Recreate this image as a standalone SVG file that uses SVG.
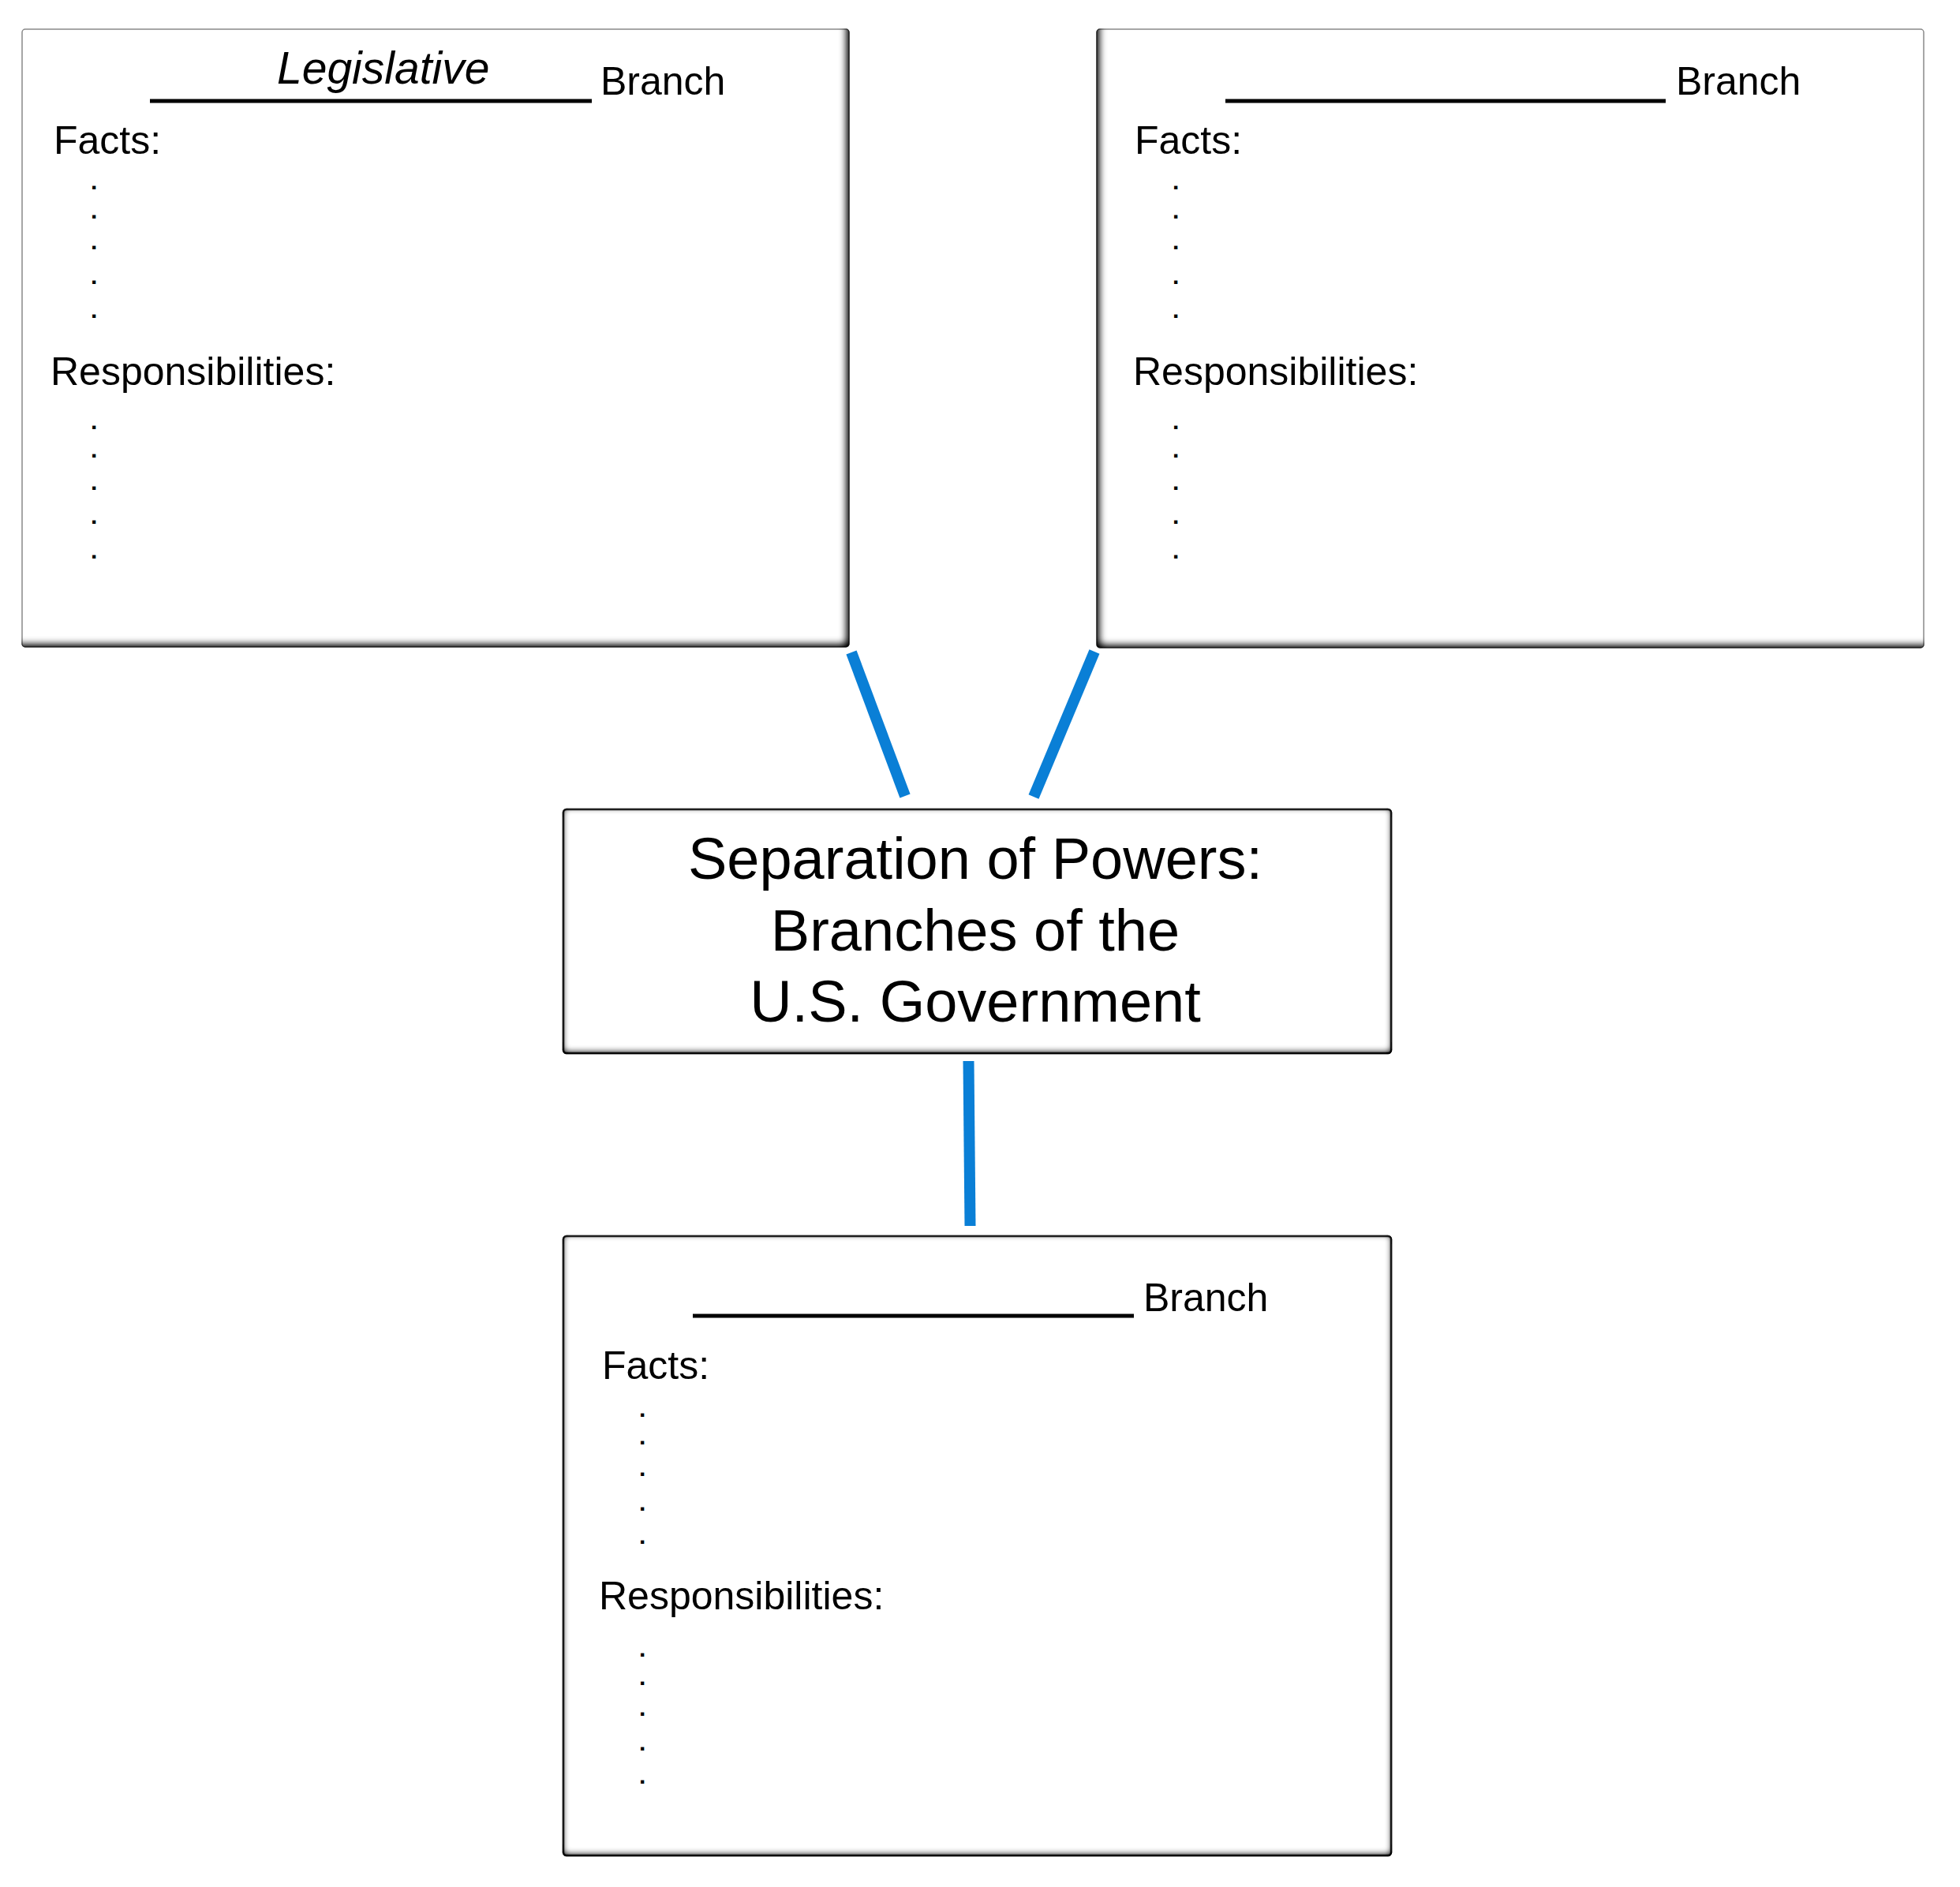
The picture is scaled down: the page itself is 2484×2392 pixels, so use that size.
<svg xmlns="http://www.w3.org/2000/svg" width="2484" height="2392" viewBox="0 0 2484 2392">
<style>
  .box { fill: #ffffff; stroke: #8a8a8a; stroke-width: 1.5; }
  .boxd { fill: #ffffff; stroke: #333333; stroke-width: 2.5; }
  .t { font-family: "Liberation Sans", Arial, sans-serif; font-size: 50px; fill: #000; }
  .d { font-family: "Liberation Sans", Arial, sans-serif; font-size: 30px; font-weight: bold; fill: #000; }
  .it { font-family: "Liberation Sans", Arial, sans-serif; font-size: 57px; font-style: italic; fill: #000; }
  .title { font-family: "Liberation Sans", Arial, sans-serif; font-size: 74px; fill: #000; text-anchor: middle; }
  .ul { stroke: #000; stroke-width: 5; }
  .conn { stroke: #0a7fd6; stroke-width: 14; stroke-linecap: butt; fill: none; }
</style>
<defs>
  <filter id="inBR" x="-3%" y="-3%" width="106%" height="106%">
    <feFlood flood-color="#000" flood-opacity="1" result="f"/>
    <feComposite in="f" in2="SourceAlpha" operator="out" result="outside"/>
    <feOffset in="outside" dx="-7" dy="-7" result="off"/>
    <feGaussianBlur in="off" stdDeviation="3.5" result="blur"/>
    <feComposite in="blur" in2="SourceAlpha" operator="in" result="inner"/>
    <feMerge><feMergeNode in="SourceGraphic"/><feMergeNode in="inner"/></feMerge>
  </filter>
  <filter id="inBL" x="-3%" y="-3%" width="106%" height="106%">
    <feFlood flood-color="#000" flood-opacity="1" result="f"/>
    <feComposite in="f" in2="SourceAlpha" operator="out" result="outside"/>
    <feOffset in="outside" dx="7" dy="-7" result="off"/>
    <feGaussianBlur in="off" stdDeviation="3.5" result="blur"/>
    <feComposite in="blur" in2="SourceAlpha" operator="in" result="inner"/>
    <feMerge><feMergeNode in="SourceGraphic"/><feMergeNode in="inner"/></feMerge>
  </filter>
  <filter id="inAll" x="-3%" y="-5%" width="106%" height="110%">
    <feFlood flood-color="#000" flood-opacity="1" result="f"/>
    <feComposite in="f" in2="SourceAlpha" operator="out" result="outside"/>
    <feMorphology in="outside" operator="dilate" radius="3" result="grow"/>
    <feOffset in="grow" dx="0" dy="-2" result="off"/>
    <feGaussianBlur in="off" stdDeviation="3" result="blur"/>
    <feComposite in="blur" in2="SourceAlpha" operator="in" result="inner"/>
    <feMerge><feMergeNode in="SourceGraphic"/><feMergeNode in="inner"/></feMerge>
  </filter>
</defs>
<rect width="2484" height="2392" fill="#ffffff"/>

<g id="connectors">
  <line class="conn" x1="1079" y1="827" x2="1147" y2="1009"/>
  <line class="conn" x1="1387" y1="826" x2="1310" y2="1010"/>
  <line class="conn" x1="1227.5" y1="1345" x2="1229.5" y2="1554"/>
</g>

<g id="legislative-branch">
  <rect class="box" x="28" y="37" width="1048" height="783" rx="4" filter="url(#inBR)"/>
  <text class="it" x="351" y="106">Legislative</text>
  <line class="ul" x1="190" y1="128" x2="750" y2="128"/>
  <text class="t" x="761" y="120">Branch</text>
  <text class="t" x="68" y="195">Facts:</text>
  <text class="d" x="115" y="240">.</text>
  <text class="d" x="115" y="277">.</text>
  <text class="d" x="115" y="316">.</text>
  <text class="d" x="115" y="360">.</text>
  <text class="d" x="115" y="403">.</text>
  <text class="t" x="64" y="488">Responsibilities:</text>
  <text class="d" x="115" y="544">.</text>
  <text class="d" x="115" y="580">.</text>
  <text class="d" x="115" y="621">.</text>
  <text class="d" x="115" y="664">.</text>
  <text class="d" x="115" y="708">.</text>
</g>

<g id="right-branch">
  <rect class="box" x="1390" y="37" width="1048" height="784" rx="4" filter="url(#inBL)"/>
  <line class="ul" x1="1553" y1="128" x2="2111" y2="128"/>
  <text class="t" x="2124" y="120">Branch</text>
  <text class="t" x="1438" y="195">Facts:</text>
  <text class="d" x="1486" y="240">.</text>
  <text class="d" x="1486" y="277">.</text>
  <text class="d" x="1486" y="316">.</text>
  <text class="d" x="1486" y="360">.</text>
  <text class="d" x="1486" y="403">.</text>
  <text class="t" x="1436" y="488">Responsibilities:</text>
  <text class="d" x="1486" y="544">.</text>
  <text class="d" x="1486" y="580">.</text>
  <text class="d" x="1486" y="621">.</text>
  <text class="d" x="1486" y="664">.</text>
  <text class="d" x="1486" y="708">.</text>
</g>

<g id="center-title">
  <rect class="boxd" x="714" y="1026" width="1049" height="309" rx="4" filter="url(#inAll)"/>
  <text class="title" x="1236" y="1114">Separation of Powers:</text>
  <text class="title" x="1236" y="1205">Branches of the</text>
  <text class="title" x="1236" y="1295">U.S. Government</text>
</g>

<g id="bottom-branch">
  <rect class="boxd" x="714" y="1567" width="1049" height="785" rx="4" filter="url(#inAll)"/>
  <line class="ul" x1="878" y1="1668" x2="1437" y2="1668"/>
  <text class="t" x="1449" y="1662">Branch</text>
  <text class="t" x="763" y="1748">Facts:</text>
  <text class="d" x="810" y="1796">.</text>
  <text class="d" x="810" y="1831">.</text>
  <text class="d" x="810" y="1871">.</text>
  <text class="d" x="810" y="1915">.</text>
  <text class="d" x="810" y="1957">.</text>
  <text class="t" x="759" y="2040">Responsibilities:</text>
  <text class="d" x="810" y="2100">.</text>
  <text class="d" x="810" y="2136">.</text>
  <text class="d" x="810" y="2175">.</text>
  <text class="d" x="810" y="2219">.</text>
  <text class="d" x="810" y="2261">.</text>
</g>
</svg>
